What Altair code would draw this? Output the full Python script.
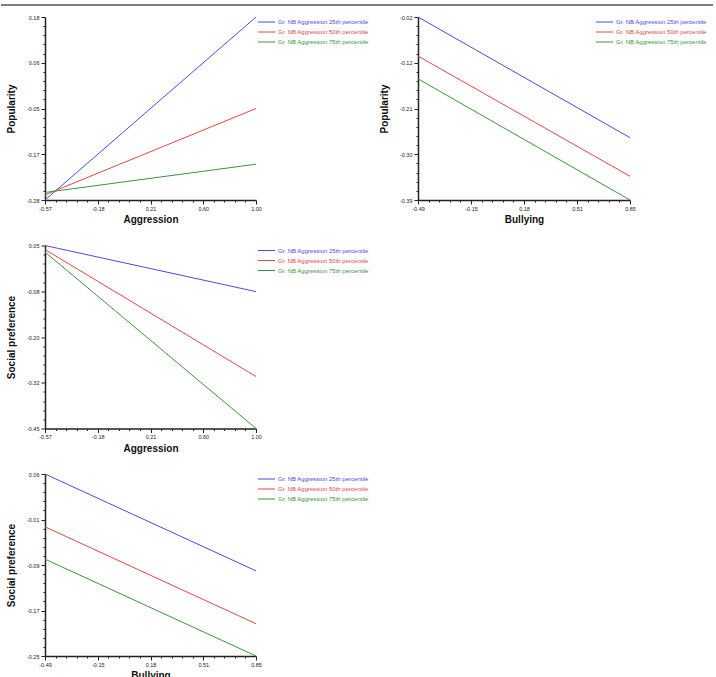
import altair as alt
import numpy as np
import pandas as pd

# ---------------- data ----------------
series_names = [
    "Gr. NB Aggression 25th percentile",
    "Gr. NB Aggression 50th percentile",
    "Gr. NB Aggression 75th percentile",
]
series_colors = ["#4a4ae8", "#e84646", "#3a963a"]

# Panel 1: Popularity vs Aggression
p1_x = [-0.57, 1.00]
p1_25 = [-0.280, 0.180]
p1_50 = [-0.267, -0.050]
p1_75 = [-0.261, -0.190]
p1_xticks = ["-0.57", "-0.18", "0.21", "0.60", "1.00"]
p1_yticks = ["-0.28", "-0.17", "-0.05", "0.06", "0.18"]

# Panel 2: Popularity vs Bullying
p2_x = [-0.49, 0.85]
p2_25 = [-0.020, -0.264]
p2_50 = [-0.099, -0.342]
p2_75 = [-0.145, -0.390]
p2_xticks = ["-0.49", "-0.15", "0.18", "0.51", "0.85"]
p2_yticks = ["-0.39", "-0.30", "-0.21", "-0.12", "-0.02"]

# Panel 3: Social preference vs Aggression
p3_x = [-0.57, 1.00]
p3_25 = [0.050, -0.076]
p3_50 = [0.039, -0.308]
p3_75 = [0.032, -0.450]
p3_xticks = ["-0.57", "-0.18", "0.21", "0.60", "1.00"]
p3_yticks = ["-0.45", "-0.32", "-0.20", "-0.08", "0.05"]

# Panel 4: Social preference vs Bullying
p4_x = [-0.49, 0.85]
p4_25 = [0.060, -0.105]
p4_50 = [-0.030, -0.195]
p4_75 = [-0.085, -0.250]
p4_xticks = ["-0.49", "-0.15", "0.18", "0.51", "0.85"]
p4_yticks = ["-0.25", "-0.17", "-0.09", "-0.01", "0.06"]

FONT = "Liberation Sans"


def make_df(xs, ys_list):
    rows = []
    for name, ys in zip(series_names, ys_list):
        for xv, yv in zip(xs, ys):
            rows.append({"x": xv, "y": yv, "series": name})
    return pd.DataFrame(rows)


def make_axis(labels, title, title_padding):
    dmin, dmax = float(labels[0]), float(labels[-1])
    step = (dmax - dmin) / 4.0
    eps = abs(step) / 20.0
    vals = [float(v) for v in np.linspace(dmin, dmax, 21)]
    majors = [dmin + k * step for k in range(5)]
    expr = ""
    for v, lab in zip(majors, labels):
        expr += f"abs(datum.value - ({v!r})) < {eps!r} ? '{lab}' : "
    expr += "''"
    test = " || ".join(f"abs(datum.value - ({v!r})) < {eps!r}" for v in majors)
    return alt.Axis(
        values=vals,
        labelExpr=expr,
        tickSize={"condition": {"test": test, "value": 4}, "value": 2},
        title=title,
        grid=False,
        labelFlush=False,
        labelOverlap=False,
        labelFont=FONT,
        labelFontSize=5.5,
        labelColor="#222222",
        labelPadding=2,
        tickColor="#222222",
        tickWidth=1,
        domainColor="#222222",
        domainWidth=1.5,
        titleFont=FONT,
        titleFontSize=10,
        titleFontWeight="bold",
        titleColor="#111111",
        titlePadding=title_padding,
    )


label_color_expr = ""
for n, c in zip(series_names, series_colors):
    label_color_expr += f"datum.value == '{n}' ? '{c}' : "
label_color_expr += "'#000000'"


def panel(xs, ys_list, xticks, yticks, xtitle, ytitle, w, h, legend_x):
    df = make_df(xs, ys_list)
    return (
        alt.Chart(df)
        .mark_line(strokeWidth=1)
        .encode(
            x=alt.X(
                "x:Q",
                scale=alt.Scale(domain=[float(xticks[0]), float(xticks[-1])], nice=False, zero=False),
                axis=make_axis(xticks, xtitle, 3),
            ),
            y=alt.Y(
                "y:Q",
                scale=alt.Scale(domain=[float(yticks[0]), float(yticks[-1])], nice=False, zero=False),
                axis=make_axis(yticks, ytitle, 10),
            ),
            color=alt.Color(
                "series:N",
                scale=alt.Scale(domain=series_names, range=series_colors),
                legend=alt.Legend(
                    title=None,
                    orient="none",
                    legendX=legend_x,
                    legendY=0,
                    symbolType="stroke",
                    symbolSize=289,
                    symbolStrokeWidth=1.1,
                    clipHeight=10,
                    rowPadding=0,
                    labelOffset=2,
                    labelFont=FONT,
                    labelFontSize=6,
                    labelColor={"expr": label_color_expr},
                    padding=0,
                ),
            ),
        )
        .properties(width=w, height=h)
    )


p1 = panel(p1_x, [p1_25, p1_50, p1_75], p1_xticks, p1_yticks, "Aggression", "Popularity", 211, 183, 212)
border = (
    alt.Chart(alt.Data(values=[{"a": 1}]))
    .mark_rule(color="#555555", strokeWidth=1.5)
    .encode(x=alt.value(-44), x2=alt.value(668), y=alt.value(-12))
)
p1 = alt.layer(p1, border)
p2 = panel(p2_x, [p2_25, p2_50, p2_75], p2_xticks, p2_yticks, "Bullying", "Popularity", 212, 183, 177)
p3 = panel(p3_x, [p3_25, p3_50, p3_75], p3_xticks, p3_yticks, "Aggression", "Social preference", 211, 183, 212)
p4 = panel(p4_x, [p4_25, p4_50, p4_75], p4_xticks, p4_yticks, "Bullying", "Social preference", 211, 182, 212)

empty = (
    alt.Chart(alt.Data(values=[{"a": 0, "b": 0}]))
    .mark_point(opacity=0)
    .encode(x=alt.X("a:Q", axis=None), y=alt.Y("b:Q", axis=None))
    .properties(width=212, height=183)
)

chart = (
    alt.concat(p1, p2, p3, empty, p4, columns=2, spacing={"row": 45.5, "column": 162}, bounds="flush")
    .resolve_scale(color="independent", x="independent", y="independent")
    .resolve_legend(color="independent")
    .properties(padding={"left": 0, "top": 4, "right": 0, "bottom": 0}, background="white")
    .configure_view(strokeWidth=0, stroke="transparent")
)

chart.save("out.html", embed_options={"renderer": "svg", "actions": False})
